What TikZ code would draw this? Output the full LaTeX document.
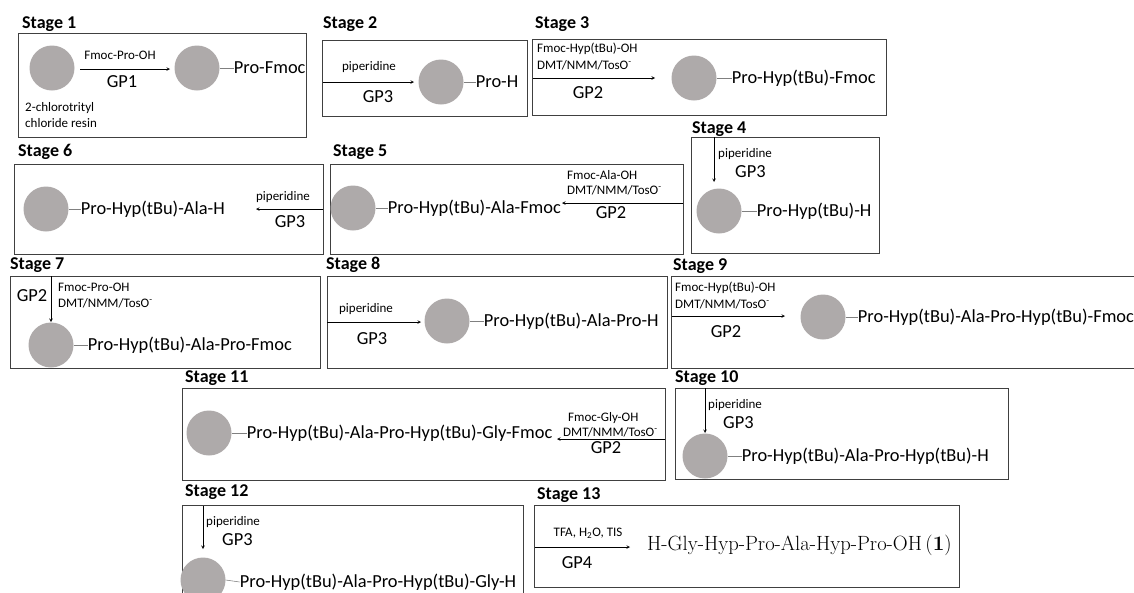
\documentclass[tikz,border=0pt]{standalone}
\usepackage{fontspec}
\setsansfont{Carlito}
\usetikzlibrary{arrows,positioning}

\definecolor{resin}{RGB}{174,170,170}
\definecolor{frame}{RGB}{64,64,64}

\begin{document}
\begin{tikzpicture}[x=1pt,y=-1pt]
				\tikzstyle{Frame} 	= [draw=frame, line width=0.9pt, anchor=north west, inner sep=0pt]
				\tikzstyle{Title}	= [anchor=west, inner sep=0pt, font=\sffamily\bfseries\fontsize{18}{20}\selectfont]
				\tikzstyle{Bead}	= [circle, fill=resin, minimum size=45pt, inner sep=0pt]
				\tikzstyle{Reagent}	= [inner sep=0pt, font=\sffamily\fontsize{13}{15}\selectfont]
				\tikzstyle{GP}		= [inner sep=0pt, font=\sffamily\fontsize{18.4}{20}\selectfont]
				\tikzstyle{Chain}	= [anchor=west, inner sep=0pt, font=\sffamily\fontsize{18.4}{20}\selectfont]
				\tikzstyle{Link}	= [gray, line width=0.6pt]
				\tikzstyle{Go}		= [-stealth, line width=0.6pt]

				\useasboundingbox (0,0) rectangle (1134,592);

				% stage 1
				\node (t1) at (22,24) [Title] {Stage 1};
				\node (s1) at (18,33) [Frame, minimum width=288, minimum height=104] {};
				\node (b1a) at (52,68) [Bead] {};
				\node (r1a) at (25,108) [Reagent, anchor=west] {2-chlorotrityl};
				\node (r1b) at (25,123) [Reagent, anchor=west] {chloride resin};
				\node (r1) at (120,55) [Reagent] {Fmoc-Pro-OH};
				\node (g1) at (122,82) [GP] {GP1};
				\node (b1) at (197,68) [Bead] {};
				\node (p1) [Chain, right=14pt of b1] {Pro-Fmoc};
				\coordinate (a1s) at (80,69);
				\coordinate (a1e) at (170,69);
				\draw [Go] (a1s) -- (a1e);
				\draw [Link] (b1.east) -- (p1.west);

				% stage 2
				\node (t2) at (323,24) [Title] {Stage 2};
				\node (s2) at (322,40) [Frame, minimum width=205, minimum height=76] {};
				\node (r2) at (369,67) [Reagent] {piperidine};
				\node (g2) at (378,97) [GP] {GP3};
				\node (b2) at (441,82) [Bead] {};
				\node (p2) [Chain, right=12pt of b2] {Pro-H};
				\coordinate (a2s) at (323,82);
				\coordinate (a2e) at (414,82);
				\draw [Go] (a2s) -- (a2e);
				\draw [Link] (b2.east) -- (p2.west);

				% stage 3
				\node (t3) at (535,24) [Title] {Stage 3};
				\node (s3) at (532,39) [Frame, minimum width=354, minimum height=76] {};
				\node (r3a) at (537,49) [Reagent, anchor=west] {Fmoc-Hyp(tBu)-OH};
				\node (r3b) at (537,65) [Reagent, anchor=west] {DMT/NMM/TosO\textsuperscript{-}};
				\node (g3) at (588,93) [GP] {GP2};
				\node (b3) at (694,78) [Bead] {};
				\node (p3) [Chain, right=15pt of b3] {Pro-Hyp(tBu)-Fmoc};
				\coordinate (a3s) at (533,78);
				\coordinate (a3e) at (655,78);
				\draw [Go] (a3s) -- (a3e);
				\draw [Link] (b3.east) -- (p3.west);

				% stage 4
				\node (t4) at (692,129) [Title] {Stage 4};
				\node (s4) at (691,137) [Frame, minimum width=188, minimum height=116] {};
				\node (r4) at (718,154) [Reagent, anchor=west] {piperidine};
				\node (g4) at (735,172) [GP, anchor=west] {GP3};
				\node (b4) at (719,211) [Bead] {};
				\node (p4) [Chain, right=15pt of b4] {Pro-Hyp(tBu)-H};
				\coordinate (a4s) at (714,137);
				\coordinate (a4e) at (714,182);
				\draw [Go] (a4s) -- (a4e);
				\draw [Link] (b4.east) -- (p4.west);

				% stage 5
				\node (t5) at (333,152) [Title] {Stage 5};
				\node (s5) at (330,164) [Frame, minimum width=353, minimum height=90] {};
				\node (b5) at (353,208) [Bead] {};
				\node (p5) [Chain, right=12pt of b5] {Pro-Hyp(tBu)-Ala-Fmoc};
				\node (r5a) at (567,175) [Reagent, anchor=west] {Fmoc-Ala-OH};
				\node (r5b) at (567,190) [Reagent, anchor=west] {DMT/NMM/TosO\textsuperscript{-}};
				\node (g5) at (611,213) [GP] {GP2};
				\coordinate (a5s) at (683,203);
				\coordinate (a5e) at (562,203);
				\draw [Go] (a5s) -- (a5e);
				\draw [Link] (b5.east) -- (p5.west);

				% stage 6
				\node (t6) at (18,152) [Title] {Stage 6};
				\node (s6) at (14,164) [Frame, minimum width=309, minimum height=90] {};
				\node (b6) at (46,209) [Bead] {};
				\node (p6) [Chain, right=12pt of b6] {Pro-Hyp(tBu)-Ala-H};
				\node (r6) at (283,197) [Reagent] {piperidine};
				\node (g6) at (290,222) [GP] {GP3};
				\coordinate (a6s) at (323,209);
				\coordinate (a6e) at (256,209);
				\draw [Go] (a6s) -- (a6e);
				\draw [Link] (b6.east) -- (p6.west);

				% stage 7
				\node (t7) at (10,265) [Title] {Stage 7};
				\node (s7) at (10,276) [Frame, minimum width=310, minimum height=92] {};
				\node (g7) at (32,296) [GP] {GP2};
				\node (r7a) at (58,287) [Reagent, anchor=west] {Fmoc-Pro-OH};
				\node (r7b) at (58,303) [Reagent, anchor=west] {DMT/NMM/TosO\textsuperscript{-}};
				\node (b7) at (51,345) [Bead] {};
				\node (p7) [Chain, right=14pt of b7] {Pro-Hyp(tBu)-Ala-Pro-Fmoc};
				\coordinate (a7s) at (51,276);
				\coordinate (a7e) at (51,322);
				\draw [Go] (a7s) -- (a7e);
				\draw [Link] (b7.east) -- (p7.west);

				% stage 8
				\node (t8) at (326,265) [Title] {Stage 8};
				\node (s8) at (327,276) [Frame, minimum width=340, minimum height=92] {};
				\node (r8) at (366,309) [Reagent] {piperidine};
				\node (g8) at (372,339) [GP] {GP3};
				\node (b8) at (447,321) [Bead] {};
				\node (p8) [Chain, right=14pt of b8] {Pro-Hyp(tBu)-Ala-Pro-H};
				\coordinate (a8s) at (327,322);
				\coordinate (a8e) at (421,322);
				\draw [Go] (a8s) -- (a8e);
				\draw [Link] (b8.east) -- (p8.west);

				% stage 9
				\node (t9) at (673,266) [Title] {Stage 9};
				\node (s9) at (671,276) [Frame, minimum width=480, minimum height=92] {};
				\node (r9a) at (675,288) [Reagent, anchor=west] {Fmoc-Hyp(tBu)-OH};
				\node (r9b) at (675,304) [Reagent, anchor=west] {DMT/NMM/TosO\textsuperscript{-}};
				\node (g9) at (726,332) [GP] {GP2};
				\node (b9) at (823,317) [Bead] {};
				\node (p9) [Chain, right=12pt of b9] {Pro-Hyp(tBu)-Ala-Pro-Hyp(tBu)-Fmoc};
				\coordinate (a9s) at (672,316);
				\coordinate (a9e) at (785,316);
				\draw [Go] (a9s) -- (a9e);
				\draw [Link] (b9.east) -- (p9.west);

				% stage 10
				\node (t10) at (675,378) [Title] {Stage 10};
				\node (s10) at (675,388) [Frame, minimum width=333, minimum height=91] {};
				\node (r10) at (708,405) [Reagent, anchor=west] {piperidine};
				\node (g10) at (723,423) [GP, anchor=west] {GP3};
				\node (b10) at (705,456) [Bead] {};
				\node (p10) [Chain, right=14pt of b10] {Pro-Hyp(tBu)-Ala-Pro-Hyp(tBu)-H};
				\coordinate (a10s) at (705,388);
				\coordinate (a10e) at (705,433);
				\draw [Go] (a10s) -- (a10e);
				\draw [Link] (b10.east) -- (p10.west);

				% stage 11
				\node (t11) at (185,378) [Title] {Stage 11};
				\node (s11) at (182,388) [Frame, minimum width=483, minimum height=92] {};
				\node (b11) at (209,433) [Bead] {};
				\node (p11) [Chain, right=15pt of b11] {Pro-Hyp(tBu)-Ala-Pro-Hyp(tBu)-Gly-Fmoc};
				\node (r11a) at (568,418) [Reagent, anchor=west] {Fmoc-Gly-OH};
				\node (r11b) at (563,432) [Reagent, anchor=west] {DMT/NMM/TosO\textsuperscript{-}};
				\node (g11) at (606,448) [GP] {GP2};
				\coordinate (a11s) at (665,439);
				\coordinate (a11e) at (557,439);
				\draw [Go] (a11s) -- (a11e);
				\draw [Link] (b11.east) -- (p11.west);

				% stage 12
				\node (t12) at (185,492) [Title] {Stage 12};
				\node (s12) at (182,505) [Frame, minimum width=341, minimum height=100] {};
				\node (r12) at (206,522) [Reagent, anchor=west] {piperidine};
				\node (g12) at (222,540) [GP, anchor=west] {GP3};
				\node (b12) at (203,580) [Bead] {};
				\node (p12) [Chain, right=14pt of b12, yshift=-2pt] {Pro-Hyp(tBu)-Ala-Pro-Hyp(tBu)-Gly-H};
				\coordinate (a12s) at (203,506);
				\coordinate (a12e) at (203,549);
				\draw [Go] (a12s) -- (a12e);
				\draw [Link] (b12.east) -- (p12.west);

				% stage 13
				\node (t13) at (537,495) [Title] {Stage 13};
				\node (s13) at (534,505) [Frame, minimum width=425, minimum height=82] {};
				\node (r13) at (588,533) [Reagent] {TFA, H\textsubscript{2}O, TIS};
				\node (g13) at (577,563) [GP] {GP4};
				\node (f13) at (647,545) [anchor=west, inner sep=0pt, font=\rmfamily\fontsize{20.6}{23}\selectfont] {H-Gly-Hyp-Pro-Ala-Hyp-Pro-OH\,(\textbf{1})};
				\coordinate (a13s) at (535,547);
				\coordinate (a13e) at (630,547);
				\draw [Go] (a13s) -- (a13e);
\end{tikzpicture}
\end{document}
